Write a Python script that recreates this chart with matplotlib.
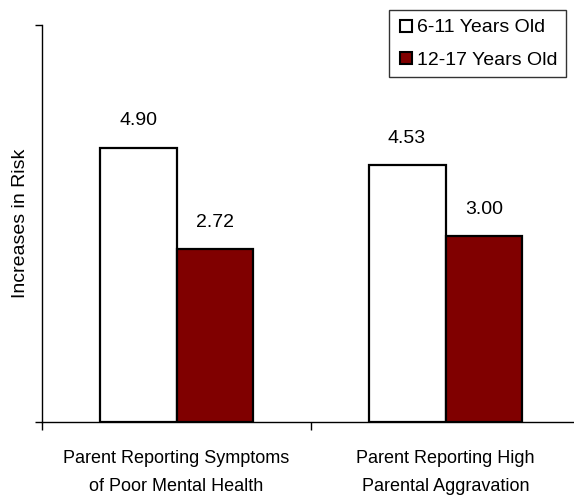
import matplotlib.pyplot as plt
from matplotlib.lines import Line2D
import numpy as np

categories = ["Parent Reporting Symptoms\nof Poor Mental Health",
              "Parent Reporting High\nParental Aggravation"]
series_names = ["6-11 Years Old", "12-17 Years Old"]
young = [4.90, 4.53]
older = [2.72, 3.00]
colors = ["white", "#800000"]

ymin, ymax = -1.0, 7.55

plt.rcParams['font.family'] = ['Liberation Sans', 'DejaVu Sans']

fig = plt.figure(figsize=(5.74, 4.96), dpi=100)
ax = fig.add_axes([42 / 574, 74 / 496, 538 / 574, 397 / 496])

x = np.arange(len(categories)) + 0.5
w = 0.286
for vals, off, col in [(young, -w / 2, colors[0]), (older, w / 2, colors[1])]:
    vals = np.array(vals)
    ax.bar(x + off, vals - ymin, bottom=ymin, width=w, color=col,
           edgecolor="black", linewidth=1.6)
    for xi, v in zip(x + off, vals):
        ax.annotate("{:.2f}".format(v), (xi, v), xytext=(0, 19.5),
                    textcoords="offset points", ha="center", va="center",
                    fontsize=14)

ax.set_xlim(0, 2)
ax.set_ylim(ymin, ymax)
ax.set_xticks([0, 1, 2])
ax.set_xticklabels([])
ax.set_xticks(x, minor=True)
ax.set_xticklabels(categories, minor=True, fontsize=13, linespacing=1.85)
ax.tick_params(axis="x", which="minor", length=0, pad=20)
ax.tick_params(axis="x", which="major", length=6, width=1, direction="out")
ax.set_yticks([ymin, ymax])
ax.set_yticklabels([])
ax.tick_params(axis="y", length=5, width=1, direction="out")
for s in ["top", "right"]:
    ax.spines[s].set_visible(False)
for s in ["left", "bottom"]:
    ax.spines[s].set_linewidth(1)
ax.set_ylabel("Increases in Risk", fontsize=14, labelpad=0.5)

handles = [Line2D([], [], marker="s", linestyle="none", markersize=8,
                  markerfacecolor=c, markeredgecolor="black", markeredgewidth=1.5)
           for c in colors]
leg = ax.legend(handles, series_names, loc="upper right",
                bbox_to_anchor=(566 / 574, 486 / 496), bbox_transform=fig.transFigure,
                fontsize=14, frameon=True, fancybox=False, handlelength=0.9,
                handletextpad=0.1, borderpad=0.45, labelspacing=0.75,
                borderaxespad=0)
leg.get_frame().set_edgecolor("black")
leg.get_frame().set_linewidth(1)

fig.savefig("out.png", dpi=100)
